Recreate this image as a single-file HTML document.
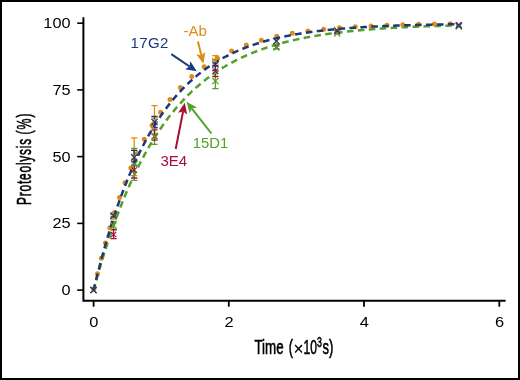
<!DOCTYPE html>
<html><head><meta charset="utf-8"><style>
html,body{margin:0;padding:0;background:#fff;}
svg{display:block;will-change:transform;}
text{font-family:"Liberation Sans",sans-serif;}
.tk{font-size:15.5px;fill:#000;}
.ti{fill:#000;stroke:#000;stroke-width:0.6px;}
.lb{font-size:15.5px;}
</style></head><body>
<svg width="520" height="380" viewBox="0 0 520 380">
<rect x="1" y="1" width="518" height="378" fill="#fff" stroke="#000" stroke-width="2"/>
<path d="M83.4,17.2 L83.4,301.8 M82.4,300.8 L505.6,300.8" stroke="#000" stroke-width="2" fill="none"/>
<line x1="77.2" y1="290.1" x2="83.4" y2="290.1" stroke="#000" stroke-width="1.6"/>
<line x1="77.2" y1="223.4" x2="83.4" y2="223.4" stroke="#000" stroke-width="1.6"/>
<line x1="77.2" y1="156.6" x2="83.4" y2="156.6" stroke="#000" stroke-width="1.6"/>
<line x1="77.2" y1="89.9" x2="83.4" y2="89.9" stroke="#000" stroke-width="1.6"/>
<line x1="77.2" y1="23.2" x2="83.4" y2="23.2" stroke="#000" stroke-width="1.6"/>
<line x1="93.6" y1="300.8" x2="93.6" y2="306.7" stroke="#000" stroke-width="1.8"/>
<line x1="228.8" y1="300.8" x2="228.8" y2="306.7" stroke="#000" stroke-width="1.8"/>
<line x1="364.0" y1="300.8" x2="364.0" y2="306.7" stroke="#000" stroke-width="1.8"/>
<line x1="499.3" y1="300.8" x2="499.3" y2="306.7" stroke="#000" stroke-width="1.8"/>
<text transform="translate(70.5,295.00) scale(1.05,1)" text-anchor="end" class="tk">0</text>
<text transform="translate(70.5,228.30) scale(1.05,1)" text-anchor="end" class="tk">25</text>
<text transform="translate(70.5,161.50) scale(1.05,1)" text-anchor="end" class="tk">50</text>
<text transform="translate(70.5,94.80) scale(1.05,1)" text-anchor="end" class="tk">75</text>
<text transform="translate(70.5,28.10) scale(1.05,1)" text-anchor="end" class="tk">100</text>
<text transform="translate(93.80,326.7) scale(1.06,1)" text-anchor="middle" class="tk">0</text>
<text transform="translate(229.00,326.7) scale(1.06,1)" text-anchor="middle" class="tk">2</text>
<text transform="translate(364.20,326.7) scale(1.06,1)" text-anchor="middle" class="tk">4</text>
<text transform="translate(499.50,326.7) scale(1.06,1)" text-anchor="middle" class="tk">6</text>
<text transform="translate(254.43,354.10) scale(0.660,1)" font-size="20.2" class="ti" >Time</text>
<text transform="translate(288.74,353.90) scale(0.660,1)" font-size="19.3" class="ti" >(</text>
<text transform="translate(293.40,355.00) scale(0.980,1)" font-size="17.5" class="ti" style="stroke-width:0.15px">×</text>
<text transform="translate(303.43,354.20) scale(0.600,1)" font-size="20.2" class="ti" >10</text>
<text transform="translate(317.05,346.80) scale(0.640,1)" font-size="13.8" class="ti" >3</text>
<text transform="translate(322.61,354.10) scale(0.640,1)" font-size="20.2" class="ti" >s</text>
<text transform="translate(329.07,353.90) scale(0.680,1)" font-size="19.3" class="ti" >)</text>
<text transform="translate(31.00,204.96) rotate(-90) scale(0.585,1)" font-size="20.5" class="ti" style="letter-spacing:1.3px">Proteolysis</text>
<text transform="translate(31.00,134.44) rotate(-90) scale(0.600,1)" font-size="20.5" class="ti" style="letter-spacing:1.6px">(%)</text>
<path d="M113.60,213.00 L113.60,219.00 M110.50,213.00 L116.70,213.00 M110.50,219.00 L116.70,219.00" stroke="#e08c14" stroke-width="1.3" fill="none"/>
<path d="M113.60,221.50 L113.60,230.00 M110.50,221.50 L116.70,221.50 M110.50,230.00 L116.70,230.00" stroke="#53a12b" stroke-width="1.3" fill="none"/>
<path d="M113.60,229.30 L113.60,238.60 M110.50,229.30 L116.70,229.30 M110.50,238.60 L116.70,238.60" stroke="#aa0d36" stroke-width="1.3" fill="none"/>
<path d="M113.60,214.70 L113.60,217.00 M110.50,214.70 L116.70,214.70 M110.50,217.00 L116.70,217.00" stroke="#1a397b" stroke-width="1.3" fill="none"/>
<path d="M134.20,137.80 L134.20,175.70 M131.10,137.80 L137.30,137.80 M131.10,175.70 L137.30,175.70" stroke="#e08c14" stroke-width="1.3" fill="none"/>
<path d="M134.20,148.50 L134.20,180.40 M131.10,148.50 L137.30,148.50 M131.10,180.40 L137.30,180.40" stroke="#53a12b" stroke-width="1.3" fill="none"/>
<path d="M134.20,161.30 L134.20,178.00 M131.10,161.30 L137.30,161.30 M131.10,178.00 L137.30,178.00" stroke="#aa0d36" stroke-width="1.3" fill="none"/>
<path d="M134.20,150.40 L134.20,165.20 M131.10,150.40 L137.30,150.40 M131.10,165.20 L137.30,165.20" stroke="#1a397b" stroke-width="1.3" fill="none"/>
<path d="M154.50,105.60 L154.50,134.40 M151.40,105.60 L157.60,105.60 M151.40,134.40 L157.60,134.40" stroke="#e08c14" stroke-width="1.3" fill="none"/>
<path d="M154.50,128.00 L154.50,144.40 M151.40,128.00 L157.60,128.00 M151.40,144.40 L157.60,144.40" stroke="#53a12b" stroke-width="1.3" fill="none"/>
<path d="M154.50,129.80 L154.50,140.10 M151.40,129.80 L157.60,129.80 M151.40,140.10 L157.60,140.10" stroke="#aa0d36" stroke-width="1.3" fill="none"/>
<path d="M154.50,116.50 L154.50,127.40 M151.40,116.50 L157.60,116.50 M151.40,127.40 L157.60,127.40" stroke="#1a397b" stroke-width="1.3" fill="none"/>
<path d="M215.40,55.70 L215.40,66.30 M212.30,55.70 L218.50,55.70 M212.30,66.30 L218.50,66.30" stroke="#e08c14" stroke-width="1.3" fill="none"/>
<path d="M215.40,73.60 L215.40,88.60 M212.30,73.60 L218.50,73.60 M212.30,88.60 L218.50,88.60" stroke="#53a12b" stroke-width="1.3" fill="none"/>
<path d="M215.40,65.50 L215.40,76.50 M212.30,65.50 L218.50,65.50 M212.30,76.50 L218.50,76.50" stroke="#aa0d36" stroke-width="1.3" fill="none"/>
<path d="M215.40,59.90 L215.40,70.50 M212.30,59.90 L218.50,59.90 M212.30,70.50 L218.50,70.50" stroke="#1a397b" stroke-width="1.3" fill="none"/>
<path d="M276.40,46.00 L276.40,49.00 M273.30,46.00 L279.50,46.00 M273.30,49.00 L279.50,49.00" stroke="#53a12b" stroke-width="1.3" fill="none"/>
<path d="M93.60,290.10 L94.52,286.73 L95.43,283.39 L96.35,280.10 L97.26,276.86 L98.18,273.65 L99.09,270.48 L100.01,267.36 L100.92,264.27 L101.84,261.23 L102.75,258.22 L103.67,255.25 L104.58,252.31 L105.50,249.42 L106.41,246.56 L107.33,243.74 L108.24,240.95 L109.16,238.20 L110.07,235.48 L110.99,232.80 L111.90,230.15 L112.82,227.54 L113.73,224.95 L114.65,222.40 L115.56,219.89 L116.48,217.40 L117.39,214.95 L118.31,212.53 L119.22,210.14 L120.14,207.77 L121.05,205.44 L121.97,203.14 L122.89,200.87 L123.80,198.62 L124.72,196.41 L125.63,194.22 L126.55,192.06 L127.46,189.93 L128.38,187.82 L129.29,185.75 L130.21,183.69 L131.12,181.67 L132.04,179.67 L132.95,177.69 L133.87,175.74 L134.78,173.81 L135.70,171.91 L136.61,170.04 L137.53,168.18 L138.44,166.35 L139.36,164.55 L140.27,162.76 L141.19,161.00 L142.10,159.26 L143.02,157.55 L143.93,155.85 L144.85,154.18 L145.76,152.52 L146.68,150.89 L147.59,149.28 L148.51,147.69 L149.42,146.12 L150.34,144.57 L151.25,143.04 L152.17,141.53 L153.09,140.04 L154.00,138.56 L154.92,137.11 L155.83,135.67 L156.75,134.25 L157.66,132.85 L158.58,131.47 L159.49,130.11 L160.41,128.76 L161.32,127.43 L162.24,126.12 L163.15,124.82 L164.07,123.54 L164.98,122.27 L165.90,121.03 L166.81,119.79 L167.73,118.58 L168.64,117.37 L169.56,116.19 L170.47,115.02 L171.39,113.86 L172.30,112.72 L173.22,111.59 L174.13,110.48 L175.05,109.38 L175.96,108.29 L176.88,107.22 L177.79,106.17 L178.71,105.12 L179.62,104.09 L180.54,103.07 L181.46,102.07 L182.37,101.08 L183.29,100.10 L184.20,99.13 L185.12,98.17 L186.03,97.23 L186.95,96.30 L187.86,95.38 L188.78,94.47 L189.69,93.58 L190.61,92.69 L191.52,91.82 L192.44,90.96 L193.35,90.10 L194.27,89.26 L195.18,88.43 L196.10,87.61 L197.01,86.80 L197.93,86.01 L198.84,85.22 L199.76,84.44 L200.67,83.67 L201.59,82.91 L202.50,82.16 L203.42,81.42 L204.33,80.69 L205.25,79.97 L206.16,79.25 L207.08,78.55 L207.99,77.86 L208.91,77.17 L209.83,76.49 L210.74,75.83 L211.66,75.17 L212.57,74.51 L213.49,73.87 L214.40,73.24 L215.32,72.61 L216.23,71.99 L217.15,71.38 L218.06,70.78 L218.98,70.18 L219.89,69.59 L220.81,69.01 L221.72,68.44 L222.64,67.87 L223.55,67.31 L224.47,66.76 L225.38,66.21 L226.30,65.68 L227.21,65.14 L228.13,64.62 L229.04,64.10 L229.96,63.59 L230.87,63.09 L231.79,62.59 L232.70,62.09 L233.62,61.61 L234.53,61.13 L235.45,60.66 L236.36,60.19 L237.28,59.73 L238.19,59.27 L239.11,58.82 L240.03,58.38 L240.94,57.94 L241.86,57.50 L242.77,57.08 L243.69,56.65 L244.60,56.24 L245.52,55.82 L246.43,55.42 L247.35,55.02 L248.26,54.62 L249.18,54.23 L250.09,53.84 L251.01,53.46 L251.92,53.08 L252.84,52.71 L253.75,52.35 L254.67,51.98 L255.58,51.63 L256.50,51.27 L257.41,50.92 L258.33,50.58 L259.24,50.24 L260.16,49.90 L261.07,49.57 L261.99,49.24 L262.90,48.92 L263.82,48.60 L264.73,48.29 L265.65,47.98 L266.56,47.67 L267.48,47.37 L268.40,47.07 L269.31,46.77 L270.23,46.48 L271.14,46.19 L272.06,45.91 L272.97,45.63 L273.89,45.35 L274.80,45.07 L275.72,44.80 L276.63,44.54 L277.55,44.27 L278.46,44.01 L279.38,43.76 L280.29,43.50 L281.21,43.25 L282.12,43.00 L283.04,42.76 L283.95,42.52 L284.87,42.28 L285.78,42.05 L286.70,41.81 L287.61,41.59 L288.53,41.36 L289.44,41.14 L290.36,40.92 L291.27,40.70 L292.19,40.48 L293.10,40.27 L294.02,40.06 L294.93,39.85 L295.85,39.65 L296.77,39.45 L297.68,39.25 L298.60,39.05 L299.51,38.86 L300.43,38.67 L301.34,38.48 L302.26,38.29 L303.17,38.11 L304.09,37.93 L305.00,37.75 L305.92,37.57 L306.83,37.39 L307.75,37.22 L308.66,37.05 L309.58,36.88 L310.49,36.71 L311.41,36.55 L312.32,36.39 L313.24,36.23 L314.15,36.07 L315.07,35.91 L315.98,35.76 L316.90,35.61 L317.81,35.45 L318.73,35.31 L319.64,35.16 L320.56,35.02 L321.47,34.87 L322.39,34.73 L323.30,34.59 L324.22,34.45 L325.13,34.32 L326.05,34.18 L326.97,34.05 L327.88,33.92 L328.80,33.79 L329.71,33.66 L330.63,33.54 L331.54,33.41 L332.46,33.29 L333.37,33.17 L334.29,33.05 L335.20,32.93 L336.12,32.82 L337.03,32.70 L337.95,32.59 L338.86,32.48 L339.78,32.37 L340.69,32.26 L341.61,32.15 L342.52,32.04 L343.44,31.94 L344.35,31.83 L345.27,31.73 L346.18,31.63 L347.10,31.53 L348.01,31.43 L348.93,31.33 L349.84,31.24 L350.76,31.14 L351.67,31.05 L352.59,30.95 L353.50,30.86 L354.42,30.77 L355.34,30.68 L356.25,30.60 L357.17,30.51 L358.08,30.42 L359.00,30.34 L359.91,30.25 L360.83,30.17 L361.74,30.09 L362.66,30.01 L363.57,29.93 L364.49,29.85 L365.40,29.77 L366.32,29.70 L367.23,29.62 L368.15,29.55 L369.06,29.47 L369.98,29.40 L370.89,29.33 L371.81,29.26 L372.72,29.19 L373.64,29.12 L374.55,29.05 L375.47,28.98 L376.38,28.92 L377.30,28.85 L378.21,28.79 L379.13,28.72 L380.04,28.66 L380.96,28.60 L381.87,28.54 L382.79,28.47 L383.71,28.41 L384.62,28.36 L385.54,28.30 L386.45,28.24 L387.37,28.18 L388.28,28.13 L389.20,28.07 L390.11,28.02 L391.03,27.96 L391.94,27.91 L392.86,27.85 L393.77,27.80 L394.69,27.75 L395.60,27.70 L396.52,27.65 L397.43,27.60 L398.35,27.55 L399.26,27.50 L400.18,27.45 L401.09,27.41 L402.01,27.36 L402.92,27.32 L403.84,27.27 L404.75,27.23 L405.67,27.18 L406.58,27.14 L407.50,27.09 L408.41,27.05 L409.33,27.01 L410.24,26.97 L411.16,26.93 L412.07,26.89 L412.99,26.85 L413.91,26.81 L414.82,26.77 L415.74,26.73 L416.65,26.69 L417.57,26.65 L418.48,26.62 L419.40,26.58 L420.31,26.54 L421.23,26.51 L422.14,26.47 L423.06,26.44 L423.97,26.41 L424.89,26.37 L425.80,26.34 L426.72,26.30 L427.63,26.27 L428.55,26.24 L429.46,26.21 L430.38,26.18 L431.29,26.15 L432.21,26.12 L433.12,26.09 L434.04,26.06 L434.95,26.03 L435.87,26.00 L436.78,25.97 L437.70,25.94 L438.61,25.91 L439.53,25.88 L440.44,25.86 L441.36,25.83 L442.28,25.80 L443.19,25.78 L444.11,25.75 L445.02,25.73 L445.94,25.70 L446.85,25.68 L447.77,25.65 L448.68,25.63 L449.60,25.60 L450.51,25.58 L451.43,25.56 L452.34,25.53 L453.26,25.51 L454.17,25.49 L455.09,25.47 L456.00,25.44 L456.92,25.42 L457.83,25.40 L458.75,25.38" stroke="#53a12b" stroke-width="2.5" fill="none" stroke-dasharray="6.6 4.36" stroke-dashoffset="0.82"/>
<path d="M93.60,290.10 L94.52,286.13 L95.43,282.21 L96.35,278.35 L97.26,274.55 L98.18,270.81 L99.09,267.12 L100.01,263.49 L100.92,259.91 L101.84,256.39 L102.75,252.91 L103.67,249.49 L104.58,246.12 L105.50,242.80 L106.41,239.53 L107.33,236.31 L108.24,233.14 L109.16,230.01 L110.07,226.93 L110.99,223.90 L111.90,220.91 L112.82,217.96 L113.73,215.06 L114.65,212.20 L115.56,209.39 L116.48,206.62 L117.39,203.88 L118.31,201.19 L119.22,198.54 L120.14,195.93 L121.05,193.36 L121.97,190.82 L122.89,188.33 L123.80,185.87 L124.72,183.44 L125.63,181.06 L126.55,178.71 L127.46,176.39 L128.38,174.11 L129.29,171.86 L130.21,169.64 L131.12,167.46 L132.04,165.31 L132.95,163.20 L133.87,161.11 L134.78,159.06 L135.70,157.03 L136.61,155.04 L137.53,153.07 L138.44,151.14 L139.36,149.23 L140.27,147.35 L141.19,145.51 L142.10,143.68 L143.02,141.89 L143.93,140.12 L144.85,138.38 L145.76,136.66 L146.68,134.97 L147.59,133.30 L148.51,131.66 L149.42,130.05 L150.34,128.46 L151.25,126.89 L152.17,125.34 L153.09,123.82 L154.00,122.32 L154.92,120.84 L155.83,119.39 L156.75,117.95 L157.66,116.54 L158.58,115.15 L159.49,113.78 L160.41,112.43 L161.32,111.10 L162.24,109.79 L163.15,108.50 L164.07,107.23 L164.98,105.97 L165.90,104.74 L166.81,103.52 L167.73,102.33 L168.64,101.15 L169.56,99.99 L170.47,98.84 L171.39,97.71 L172.30,96.60 L173.22,95.51 L174.13,94.43 L175.05,93.37 L175.96,92.32 L176.88,91.29 L177.79,90.27 L178.71,89.27 L179.62,88.29 L180.54,87.32 L181.46,86.36 L182.37,85.42 L183.29,84.49 L184.20,83.58 L185.12,82.68 L186.03,81.79 L186.95,80.92 L187.86,80.05 L188.78,79.21 L189.69,78.37 L190.61,77.55 L191.52,76.74 L192.44,75.94 L193.35,75.15 L194.27,74.38 L195.18,73.61 L196.10,72.86 L197.01,72.12 L197.93,71.39 L198.84,70.67 L199.76,69.96 L200.67,69.26 L201.59,68.58 L202.50,67.90 L203.42,67.23 L204.33,66.57 L205.25,65.93 L206.16,65.29 L207.08,64.66 L207.99,64.04 L208.91,63.43 L209.83,62.83 L210.74,62.24 L211.66,61.66 L212.57,61.08 L213.49,60.51 L214.40,59.96 L215.32,59.41 L216.23,58.87 L217.15,58.33 L218.06,57.81 L218.98,57.29 L219.89,56.78 L220.81,56.28 L221.72,55.79 L222.64,55.30 L223.55,54.82 L224.47,54.35 L225.38,53.88 L226.30,53.42 L227.21,52.97 L228.13,52.53 L229.04,52.09 L229.96,51.66 L230.87,51.23 L231.79,50.81 L232.70,50.40 L233.62,49.99 L234.53,49.59 L235.45,49.20 L236.36,48.81 L237.28,48.42 L238.19,48.05 L239.11,47.68 L240.03,47.31 L240.94,46.95 L241.86,46.59 L242.77,46.24 L243.69,45.90 L244.60,45.56 L245.52,45.22 L246.43,44.89 L247.35,44.57 L248.26,44.25 L249.18,43.93 L250.09,43.62 L251.01,43.32 L251.92,43.02 L252.84,42.72 L253.75,42.43 L254.67,42.14 L255.58,41.85 L256.50,41.57 L257.41,41.30 L258.33,41.03 L259.24,40.76 L260.16,40.50 L261.07,40.24 L261.99,39.98 L262.90,39.73 L263.82,39.48 L264.73,39.24 L265.65,39.00 L266.56,38.76 L267.48,38.53 L268.40,38.30 L269.31,38.07 L270.23,37.85 L271.14,37.63 L272.06,37.41 L272.97,37.20 L273.89,36.99 L274.80,36.78 L275.72,36.57 L276.63,36.37 L277.55,36.18 L278.46,35.98 L279.38,35.79 L280.29,35.60 L281.21,35.41 L282.12,35.23 L283.04,35.05 L283.95,34.87 L284.87,34.69 L285.78,34.52 L286.70,34.35 L287.61,34.18 L288.53,34.02 L289.44,33.85 L290.36,33.69 L291.27,33.53 L292.19,33.38 L293.10,33.23 L294.02,33.07 L294.93,32.93 L295.85,32.78 L296.77,32.63 L297.68,32.49 L298.60,32.35 L299.51,32.21 L300.43,32.08 L301.34,31.94 L302.26,31.81 L303.17,31.68 L304.09,31.55 L305.00,31.43 L305.92,31.30 L306.83,31.18 L307.75,31.06 L308.66,30.94 L309.58,30.82 L310.49,30.71 L311.41,30.59 L312.32,30.48 L313.24,30.37 L314.15,30.26 L315.07,30.15 L315.98,30.05 L316.90,29.95 L317.81,29.84 L318.73,29.74 L319.64,29.64 L320.56,29.55 L321.47,29.45 L322.39,29.35 L323.30,29.26 L324.22,29.17 L325.13,29.08 L326.05,28.99 L326.97,28.90 L327.88,28.81 L328.80,28.73 L329.71,28.64 L330.63,28.56 L331.54,28.48 L332.46,28.40 L333.37,28.32 L334.29,28.24 L335.20,28.16 L336.12,28.09 L337.03,28.01 L337.95,27.94 L338.86,27.87 L339.78,27.79 L340.69,27.72 L341.61,27.66 L342.52,27.59 L343.44,27.52 L344.35,27.45 L345.27,27.39 L346.18,27.32 L347.10,27.26 L348.01,27.20 L348.93,27.14 L349.84,27.08 L350.76,27.02 L351.67,26.96 L352.59,26.90 L353.50,26.84 L354.42,26.79 L355.34,26.73 L356.25,26.68 L357.17,26.62 L358.08,26.57 L359.00,26.52 L359.91,26.47 L360.83,26.42 L361.74,26.37 L362.66,26.32 L363.57,26.27 L364.49,26.22 L365.40,26.17 L366.32,26.13 L367.23,26.08 L368.15,26.04 L369.06,25.99 L369.98,25.95 L370.89,25.91 L371.81,25.86 L372.72,25.82 L373.64,25.78 L374.55,25.74 L375.47,25.70 L376.38,25.66 L377.30,25.62 L378.21,25.59 L379.13,25.55 L380.04,25.51 L380.96,25.47 L381.87,25.44 L382.79,25.40 L383.71,25.37 L384.62,25.33 L385.54,25.30 L386.45,25.27 L387.37,25.23 L388.28,25.20 L389.20,25.17 L390.11,25.14 L391.03,25.11 L391.94,25.08 L392.86,25.05 L393.77,25.02 L394.69,24.99 L395.60,24.96 L396.52,24.93 L397.43,24.90 L398.35,24.88 L399.26,24.85 L400.18,24.82 L401.09,24.80 L402.01,24.77 L402.92,24.75 L403.84,24.72 L404.75,24.70 L405.67,24.67 L406.58,24.65 L407.50,24.63 L408.41,24.60 L409.33,24.58 L410.24,24.56 L411.16,24.53 L412.07,24.51 L412.99,24.49 L413.91,24.47 L414.82,24.45 L415.74,24.43 L416.65,24.41 L417.57,24.39 L418.48,24.37 L419.40,24.35 L420.31,24.33 L421.23,24.31 L422.14,24.29 L423.06,24.27 L423.97,24.26 L424.89,24.24 L425.80,24.22 L426.72,24.20 L427.63,24.19 L428.55,24.17 L429.46,24.15 L430.38,24.14 L431.29,24.12 L432.21,24.11 L433.12,24.09 L434.04,24.08 L434.95,24.06 L435.87,24.05 L436.78,24.03 L437.70,24.02 L438.61,24.00 L439.53,23.99 L440.44,23.98 L441.36,23.96 L442.28,23.95 L443.19,23.94 L444.11,23.92 L445.02,23.91 L445.94,23.90 L446.85,23.88 L447.77,23.87 L448.68,23.86 L449.60,23.85 L450.51,23.84 L451.43,23.83 L452.34,23.81 L453.26,23.80 L454.17,23.79 L455.09,23.78 L456.00,23.77 L456.92,23.76 L457.83,23.75 L458.75,23.74" stroke="#e08c14" stroke-width="5.0" fill="none" stroke-linecap="round" stroke-dasharray="0 15.839" stroke-dashoffset="-1.08"/>
<path d="M93.60,290.10 L94.52,286.28 L95.43,282.51 L96.35,278.80 L97.26,275.14 L98.18,271.53 L99.09,267.98 L100.01,264.48 L100.92,261.02 L101.84,257.62 L102.75,254.26 L103.67,250.95 L104.58,247.69 L105.50,244.48 L106.41,241.31 L107.33,238.19 L108.24,235.11 L109.16,232.08 L110.07,229.09 L110.99,226.14 L111.90,223.24 L112.82,220.37 L113.73,217.55 L114.65,214.77 L115.56,212.03 L116.48,209.32 L117.39,206.66 L118.31,204.03 L119.22,201.45 L120.14,198.89 L121.05,196.38 L121.97,193.90 L122.89,191.46 L123.80,189.05 L124.72,186.68 L125.63,184.34 L126.55,182.03 L127.46,179.76 L128.38,177.52 L129.29,175.31 L130.21,173.13 L131.12,170.99 L132.04,168.87 L132.95,166.79 L133.87,164.73 L134.78,162.71 L135.70,160.71 L136.61,158.74 L137.53,156.80 L138.44,154.89 L139.36,153.01 L140.27,151.15 L141.19,149.32 L142.10,147.51 L143.02,145.74 L143.93,143.98 L144.85,142.25 L145.76,140.55 L146.68,138.87 L147.59,137.22 L148.51,135.59 L149.42,133.98 L150.34,132.39 L151.25,130.83 L152.17,129.29 L153.09,127.77 L154.00,126.28 L154.92,124.80 L155.83,123.35 L156.75,121.92 L157.66,120.51 L158.58,119.11 L159.49,117.74 L160.41,116.39 L161.32,115.06 L162.24,113.74 L163.15,112.45 L164.07,111.17 L164.98,109.91 L165.90,108.67 L166.81,107.45 L167.73,106.25 L168.64,105.06 L169.56,103.89 L170.47,102.73 L171.39,101.60 L172.30,100.48 L173.22,99.37 L174.13,98.28 L175.05,97.21 L175.96,96.15 L176.88,95.11 L177.79,94.08 L178.71,93.07 L179.62,92.07 L180.54,91.08 L181.46,90.11 L182.37,89.16 L183.29,88.21 L184.20,87.28 L185.12,86.37 L186.03,85.46 L186.95,84.57 L187.86,83.70 L188.78,82.83 L189.69,81.98 L190.61,81.14 L191.52,80.31 L192.44,79.50 L193.35,78.69 L194.27,77.90 L195.18,77.12 L196.10,76.35 L197.01,75.59 L197.93,74.84 L198.84,74.10 L199.76,73.37 L200.67,72.66 L201.59,71.95 L202.50,71.25 L203.42,70.57 L204.33,69.89 L205.25,69.22 L206.16,68.57 L207.08,67.92 L207.99,67.28 L208.91,66.65 L209.83,66.03 L210.74,65.42 L211.66,64.82 L212.57,64.22 L213.49,63.64 L214.40,63.06 L215.32,62.49 L216.23,61.93 L217.15,61.38 L218.06,60.83 L218.98,60.29 L219.89,59.77 L220.81,59.24 L221.72,58.73 L222.64,58.22 L223.55,57.72 L224.47,57.23 L225.38,56.74 L226.30,56.27 L227.21,55.79 L228.13,55.33 L229.04,54.87 L229.96,54.42 L230.87,53.97 L231.79,53.53 L232.70,53.10 L233.62,52.68 L234.53,52.26 L235.45,51.84 L236.36,51.43 L237.28,51.03 L238.19,50.63 L239.11,50.24 L240.03,49.86 L240.94,49.48 L241.86,49.10 L242.77,48.73 L243.69,48.37 L244.60,48.01 L245.52,47.66 L246.43,47.31 L247.35,46.97 L248.26,46.63 L249.18,46.29 L250.09,45.97 L251.01,45.64 L251.92,45.32 L252.84,45.01 L253.75,44.70 L254.67,44.39 L255.58,44.09 L256.50,43.79 L257.41,43.50 L258.33,43.21 L259.24,42.92 L260.16,42.64 L261.07,42.37 L261.99,42.09 L262.90,41.83 L263.82,41.56 L264.73,41.30 L265.65,41.04 L266.56,40.79 L267.48,40.54 L268.40,40.29 L269.31,40.05 L270.23,39.81 L271.14,39.57 L272.06,39.34 L272.97,39.11 L273.89,38.89 L274.80,38.66 L275.72,38.44 L276.63,38.23 L277.55,38.01 L278.46,37.80 L279.38,37.60 L280.29,37.39 L281.21,37.19 L282.12,36.99 L283.04,36.80 L283.95,36.60 L284.87,36.41 L285.78,36.23 L286.70,36.04 L287.61,35.86 L288.53,35.68 L289.44,35.50 L290.36,35.33 L291.27,35.16 L292.19,34.99 L293.10,34.82 L294.02,34.66 L294.93,34.49 L295.85,34.33 L296.77,34.18 L297.68,34.02 L298.60,33.87 L299.51,33.72 L300.43,33.57 L301.34,33.42 L302.26,33.28 L303.17,33.14 L304.09,32.99 L305.00,32.86 L305.92,32.72 L306.83,32.59 L307.75,32.45 L308.66,32.32 L309.58,32.19 L310.49,32.07 L311.41,31.94 L312.32,31.82 L313.24,31.70 L314.15,31.58 L315.07,31.46 L315.98,31.34 L316.90,31.23 L317.81,31.11 L318.73,31.00 L319.64,30.89 L320.56,30.79 L321.47,30.68 L322.39,30.57 L323.30,30.47 L324.22,30.37 L325.13,30.27 L326.05,30.17 L326.97,30.07 L327.88,29.97 L328.80,29.88 L329.71,29.78 L330.63,29.69 L331.54,29.60 L332.46,29.51 L333.37,29.42 L334.29,29.34 L335.20,29.25 L336.12,29.16 L337.03,29.08 L337.95,29.00 L338.86,28.92 L339.78,28.84 L340.69,28.76 L341.61,28.68 L342.52,28.60 L343.44,28.53 L344.35,28.45 L345.27,28.38 L346.18,28.31 L347.10,28.24 L348.01,28.17 L348.93,28.10 L349.84,28.03 L350.76,27.96 L351.67,27.90 L352.59,27.83 L353.50,27.77 L354.42,27.70 L355.34,27.64 L356.25,27.58 L357.17,27.52 L358.08,27.46 L359.00,27.40 L359.91,27.34 L360.83,27.28 L361.74,27.23 L362.66,27.17 L363.57,27.12 L364.49,27.06 L365.40,27.01 L366.32,26.96 L367.23,26.90 L368.15,26.85 L369.06,26.80 L369.98,26.75 L370.89,26.70 L371.81,26.66 L372.72,26.61 L373.64,26.56 L374.55,26.51 L375.47,26.47 L376.38,26.42 L377.30,26.38 L378.21,26.34 L379.13,26.29 L380.04,26.25 L380.96,26.21 L381.87,26.17 L382.79,26.13 L383.71,26.09 L384.62,26.05 L385.54,26.01 L386.45,25.97 L387.37,25.93 L388.28,25.90 L389.20,25.86 L390.11,25.82 L391.03,25.79 L391.94,25.75 L392.86,25.72 L393.77,25.68 L394.69,25.65 L395.60,25.62 L396.52,25.58 L397.43,25.55 L398.35,25.52 L399.26,25.49 L400.18,25.46 L401.09,25.43 L402.01,25.40 L402.92,25.37 L403.84,25.34 L404.75,25.31 L405.67,25.28 L406.58,25.25 L407.50,25.23 L408.41,25.20 L409.33,25.17 L410.24,25.15 L411.16,25.12 L412.07,25.09 L412.99,25.07 L413.91,25.04 L414.82,25.02 L415.74,25.00 L416.65,24.97 L417.57,24.95 L418.48,24.93 L419.40,24.90 L420.31,24.88 L421.23,24.86 L422.14,24.84 L423.06,24.81 L423.97,24.79 L424.89,24.77 L425.80,24.75 L426.72,24.73 L427.63,24.71 L428.55,24.69 L429.46,24.67 L430.38,24.65 L431.29,24.63 L432.21,24.62 L433.12,24.60 L434.04,24.58 L434.95,24.56 L435.87,24.54 L436.78,24.53 L437.70,24.51 L438.61,24.49 L439.53,24.48 L440.44,24.46 L441.36,24.44 L442.28,24.43 L443.19,24.41 L444.11,24.40 L445.02,24.38 L445.94,24.37 L446.85,24.35 L447.77,24.34 L448.68,24.32 L449.60,24.31 L450.51,24.29 L451.43,24.28 L452.34,24.27 L453.26,24.25 L454.17,24.24 L455.09,24.23 L456.00,24.21 L456.92,24.20 L457.83,24.19 L458.75,24.18" stroke="#1a397b" stroke-width="2.5" fill="none" stroke-dasharray="6.6 4.345" stroke-dashoffset="0.55"/>
<path d="M110.50,212.90 L116.70,219.10 M110.50,219.10 L116.70,212.90" stroke="#e08c14" stroke-width="1.2" fill="none"/>
<path d="M110.90,231.80 L116.30,237.20 M110.90,237.20 L116.30,231.80" stroke="#aa0d36" stroke-width="1.1" fill="none"/>
<path d="M110.50,222.40 L116.70,228.60 M110.50,228.60 L116.70,222.40" stroke="#53a12b" stroke-width="1.2" fill="none"/>
<path d="M110.50,212.60 L116.70,218.80 M110.50,218.80 L116.70,212.60" stroke="#1a397b" stroke-width="1.2" fill="none"/>
<path d="M131.10,153.65 L137.30,159.85 M131.10,159.85 L137.30,153.65" stroke="#e08c14" stroke-width="1.2" fill="none"/>
<path d="M131.50,167.30 L136.90,172.70 M131.50,172.70 L136.90,167.30" stroke="#aa0d36" stroke-width="1.1" fill="none"/>
<path d="M131.10,161.40 L137.30,167.60 M131.10,167.60 L137.30,161.40" stroke="#53a12b" stroke-width="1.2" fill="none"/>
<path d="M131.10,154.40 L137.30,160.60 M131.10,160.60 L137.30,154.40" stroke="#1a397b" stroke-width="1.2" fill="none"/>
<path d="M151.40,116.90 L157.60,123.10 M151.40,123.10 L157.60,116.90" stroke="#e08c14" stroke-width="1.2" fill="none"/>
<path d="M151.80,133.80 L157.20,139.20 M151.80,139.20 L157.20,133.80" stroke="#aa0d36" stroke-width="1.1" fill="none"/>
<path d="M151.40,132.90 L157.60,139.10 M151.40,139.10 L157.60,132.90" stroke="#53a12b" stroke-width="1.2" fill="none"/>
<path d="M151.40,118.90 L157.60,125.10 M151.40,125.10 L157.60,118.90" stroke="#1a397b" stroke-width="1.2" fill="none"/>
<path d="M212.30,57.90 L218.50,64.10 M212.30,64.10 L218.50,57.90" stroke="#e08c14" stroke-width="1.2" fill="none"/>
<path d="M212.70,68.30 L218.10,73.70 M212.70,73.70 L218.10,68.30" stroke="#aa0d36" stroke-width="1.1" fill="none"/>
<path d="M212.30,78.00 L218.50,84.20 M212.30,84.20 L218.50,78.00" stroke="#53a12b" stroke-width="1.2" fill="none"/>
<path d="M212.30,61.40 L218.50,67.60 M212.30,67.60 L218.50,61.40" stroke="#1a397b" stroke-width="1.2" fill="none"/>
<path d="M273.30,38.40 L279.50,44.60 M273.30,44.60 L279.50,38.40" stroke="#e08c14" stroke-width="1.2" fill="none"/>
<path d="M273.70,44.20 L279.10,49.60 M273.70,49.60 L279.10,44.20" stroke="#aa0d36" stroke-width="1.1" fill="none"/>
<path d="M273.30,44.30 L279.50,50.50 M273.30,50.50 L279.50,44.30" stroke="#53a12b" stroke-width="1.2" fill="none"/>
<path d="M273.30,38.00 L279.50,44.20 M273.30,44.20 L279.50,38.00" stroke="#1a397b" stroke-width="1.2" fill="none"/>
<path d="M334.10,27.40 L340.30,33.60 M334.10,33.60 L340.30,27.40" stroke="#e08c14" stroke-width="1.2" fill="none"/>
<path d="M334.50,29.30 L339.90,34.70 M334.50,34.70 L339.90,29.30" stroke="#aa0d36" stroke-width="1.1" fill="none"/>
<path d="M334.10,30.40 L340.30,36.60 M334.10,36.60 L340.30,30.40" stroke="#53a12b" stroke-width="1.2" fill="none"/>
<path d="M334.10,27.40 L340.30,33.60 M334.10,33.60 L340.30,27.40" stroke="#1a397b" stroke-width="1.2" fill="none"/>
<path d="M455.70,22.50 L461.90,28.70 M455.70,28.70 L461.90,22.50" stroke="#e08c14" stroke-width="1.2" fill="none"/>
<path d="M456.10,22.10 L461.50,27.50 M456.10,27.50 L461.50,22.10" stroke="#aa0d36" stroke-width="1.1" fill="none"/>
<path d="M455.70,23.40 L461.90,29.60 M455.70,29.60 L461.90,23.40" stroke="#53a12b" stroke-width="1.2" fill="none"/>
<path d="M455.70,22.50 L461.90,28.70 M455.70,28.70 L461.90,22.50" stroke="#1a397b" stroke-width="1.2" fill="none"/>
<path d="M90.40,287.00 L96.60,293.20 M90.40,293.20 L96.60,287.00" stroke="#e08c14" stroke-width="1.2" fill="none"/>
<path d="M90.80,287.40 L96.20,292.80 M90.80,292.80 L96.20,287.40" stroke="#aa0d36" stroke-width="1.1" fill="none"/>
<path d="M90.40,287.00 L96.60,293.20 M90.40,293.20 L96.60,287.00" stroke="#53a12b" stroke-width="1.2" fill="none"/>
<path d="M90.40,287.00 L96.60,293.20 M90.40,293.20 L96.60,287.00" stroke="#1a397b" stroke-width="1.2" fill="none"/>
<line x1="171.30" y1="54.10" x2="189.58" y2="66.48" stroke="#1a397b" stroke-width="2.0"/><path d="M196.70,71.30 L185.12,69.14 L189.58,66.48 L190.39,61.35 Z" fill="#1a397b"/>
<line x1="197.90" y1="41.40" x2="201.34" y2="55.35" stroke="#e08c14" stroke-width="2.0"/><path d="M203.40,63.70 L196.25,54.34 L201.34,55.35 L205.38,52.09 Z" fill="#e08c14"/>
<line x1="175.70" y1="149.00" x2="183.06" y2="111.53" stroke="#aa0d36" stroke-width="2.0"/><path d="M184.80,102.70 L187.15,114.58 L183.06,111.53 L178.13,112.80 Z" fill="#aa0d36"/>
<line x1="211.40" y1="133.50" x2="191.90" y2="108.57" stroke="#53a12b" stroke-width="2.0"/><path d="M186.60,101.80 L196.96,107.41 L191.90,108.57 L189.55,113.20 Z" fill="#53a12b"/>
<text transform="translate(130.4,48.1) scale(0.97,1)" class="lb" fill="#1a397b" style="letter-spacing:0.4px">17G2</text>
<text transform="translate(183.5,35.6) scale(0.97,1)" class="lb" fill="#e08c14">-Ab</text>
<text transform="translate(192.8,148.2) scale(0.96,1)" class="lb" fill="#53a12b">15D1</text>
<text transform="translate(160.5,166.3) scale(0.97,1)" class="lb" fill="#aa0d36">3E4</text>
</svg>
</body></html>
